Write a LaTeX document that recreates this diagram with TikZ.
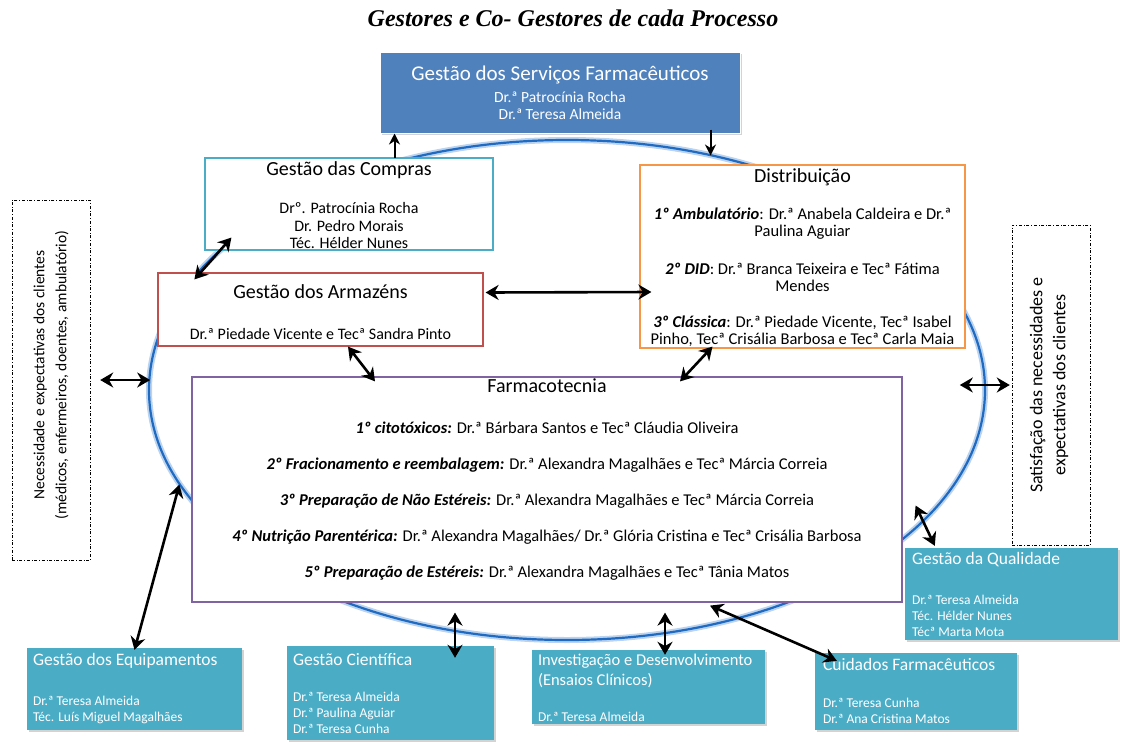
\documentclass[tikz,border=0pt]{standalone}
\usepackage{fontspec}
\setmainfont{Carlito}
\newfontfamily\titlefont{Liberation Serif}
\usepackage{tikz}
\usetikzlibrary{positioning,arrows.meta,shadows,shapes.geometric}

\definecolor{srvblue}{HTML}{4F81BD}
\definecolor{tealbox}{HTML}{4BACC6}
\definecolor{orangeb}{HTML}{F79646}
\definecolor{redb}{HTML}{C0504D}
\definecolor{purpleb}{HTML}{8064A2}
\definecolor{ringblue}{HTML}{1F6BC4}

\tikzset{
  outbox/.style={draw=#1, line width=1.2pt, fill=white, inner sep=0pt},
  fillbox/.style={fill=tealbox, inner sep=0pt, drop shadow={shadow xshift=2pt, shadow yshift=-2pt, opacity=0.35}},
  boxtitle/.style={font=\fontsize{20}{22}\selectfont},
  names/.style={font=\fontsize{16}{17.5}\selectfont, align=center},
  wtitle/.style={text=white, font=\fontsize{17.5}{20}\selectfont, align=left, inner sep=0pt},
  wnames/.style={text=white, font=\fontsize{13.5}{16}\selectfont, align=left, inner sep=0pt},
  dbl/.style={{Stealth[length=13pt,width=15pt]}-{Stealth[length=13pt,width=15pt]}, line width=2.6pt},
  sgl/.style={-{Stealth[length=11pt,width=11pt]}, line width=2pt},
  client/.style={draw, dash dot, thin, minimum width=78pt, inner sep=0pt},
}

\begin{document}
\begin{tikzpicture}[x=1pt, y=-1pt]
\useasboundingbox (0,0) rectangle (1121,745);

\node (title) at (573,18) {\titlefont\bfseries\itshape\fontsize{24}{26}\selectfont Gestores e Co- Gestores de cada Processo};

% ciclo
\node[ellipse, draw=ringblue!30, line width=6pt, minimum width=836pt, minimum height=500pt] (ringglow) at (567,390) {};
\node[ellipse, draw=ringblue, line width=2.2pt, minimum width=836pt, minimum height=500pt] (ring) at (567,390) {};

% topo
\node[fill=srvblue, draw=white, line width=1pt, minimum width=360pt, minimum height=81pt,
      drop shadow={shadow xshift=2pt, shadow yshift=-2pt, opacity=0.35}] (srv) at (560,92.5) {};
\node[text=white, font=\fontsize{21}{24}\selectfont] (srvT) at (560,75) {Gestão dos Serviços Farmacêuticos};
\node[text=white, names, font=\fontsize{15.5}{17}\selectfont] (srvN) at (560,106) {Dr.ª Patrocínia Rocha\\Dr.ª Teresa Almeida};

% caixas do ciclo
\node[outbox=tealbox, minimum width=288pt, minimum height=92pt] (compras) at (349,204) {};
\node[boxtitle] (comprasT) at (349,170) {Gestão das Compras};
\node[names] (comprasN) at (349,226) {Drº. Patrocínia Rocha\\Dr. Pedro Morais\\Téc. Hélder Nunes};

\node[outbox=redb, minimum width=325pt, minimum height=73pt] (armaz) at (320.5,309.5) {};
\node[boxtitle] (armazT) at (320.5,292) {Gestão dos Armazéns};
\node[names] (armazN) at (320.5,334) {Dr.ª Piedade Vicente e Tecª Sandra Pinto};

\node[outbox=orangeb, minimum width=325pt, minimum height=183pt] (distrib) at (802.5,256.5) {};
\node[boxtitle] (distribT) at (802.5,177) {Distribuição};
\node[names, font=\fontsize{16.5}{17}\selectfont] (distribN) at (802.5,277.5)
  {\textbf{\textit{1º Ambulatório}}: Dr.ª Anabela Caldeira e Dr.ª\\Paulina Aguiar\\[21pt]
   \textbf{\textit{2º DID}}: Dr.ª Branca Teixeira e Tecª Fátima\\Mendes\\[19pt]
   \textbf{\textit{3º Clássica}}: Dr.ª Piedade Vicente, Tecª Isabel\\Pinho, Tecª Crisália Barbosa e Tecª Carla Maia};

\node[outbox=purpleb, minimum width=710pt, minimum height=225pt] (farma) at (547,489.5) {};
\node[boxtitle] (farmaT) at (547,386) {Farmacotecnia};
\node[names, font=\fontsize{16.5}{36}\selectfont] (farmaN) at (547,501.5)
  {\textbf{\textit{1º citotóxicos:}} Dr.ª Bárbara Santos e Tecª Cláudia Oliveira\\
   \textbf{\textit{2º Fracionamento e reembalagem:}} Dr.ª Alexandra Magalhães e Tecª Márcia Correia\\
   \textbf{\textit{3º Preparação de Não Estéreis:}} Dr.ª Alexandra Magalhães e Tecª Márcia Correia\\
   \textbf{\textit{4º Nutrição Parentérica:}} Dr.ª Alexandra Magalhães/ Dr.ª Glória Cristina e Tecª Crisália Barbosa\\
   \textbf{\textit{5º Preparação de Estéreis:}} Dr.ª Alexandra Magalhães e Tecª Tânia Matos};

% clientes
\node[client, minimum height=360pt] (needs) at (51,380) {};
\node[rotate=90, align=center, font=\fontsize{15.5}{22}\selectfont] (needsT) at (51,375)
  {Necessidade e expectativas dos clientes\\(médicos, enfermeiros, doentes, ambulatório)};
\node[client, minimum height=320pt] (satis) at (1051,385) {};
\node[rotate=90, align=center, font=\fontsize{18}{23}\selectfont] (satisT) at (1049,385)
  {Satisfação das necessidades e\\expectativas dos clientes};

% caixas de apoio
\node[fillbox, minimum width=213pt, minimum height=92pt] (qual) at (1011.5,594) {};
\node[wtitle, anchor=west] (qualT) at ([shift={(7,12)}]qual.north west) {Gestão da Qualidade};
\node[wnames, anchor=west] (qualN) at ([shift={(7,-24)}]qual.south west) {Dr.ª Teresa Almeida\\Téc. Hélder Nunes\\Técª Marta Mota};

\node[fillbox, minimum width=215pt, minimum height=82pt] (equip) at (134.5,689) {};
\node[wtitle, anchor=west] (equipT) at ([shift={(6,13)}]equip.north west) {Gestão dos Equipamentos};
\node[wnames, anchor=west] (equipN) at ([shift={(6,-20)}]equip.south west) {Dr.ª Teresa Almeida\\Téc. Luís Miguel Magalhães};

\node[fillbox, minimum width=207pt, minimum height=94pt] (cient) at (390.5,693) {};
\node[wtitle, anchor=west] (cientT) at ([shift={(6,14)}]cient.north west) {Gestão Científica};
\node[wnames, anchor=west] (cientN) at ([shift={(6,-27)}]cient.south west) {Dr.ª Teresa Almeida\\Dr.ª Paulina Aguiar\\Dr.ª Teresa Cunha};

\node[fillbox, minimum width=233pt, minimum height=74pt] (invest) at (648.5,687) {};
\node[wtitle, anchor=west, font=\fontsize{16.5}{20}\selectfont] (investT) at ([shift={(6,21)}]invest.north west) {Investigação e Desenvolvimento\\(Ensaios Clínicos)};
\node[wnames, anchor=west] (investN) at ([shift={(6,-7)}]invest.south west) {Dr.ª Teresa Almeida};

\node[fillbox, minimum width=202pt, minimum height=77pt] (cuid) at (916,691.5) {};
\node[wtitle, anchor=west] (cuidT) at ([shift={(8,12)}]cuid.north west) {Cuidados Farmacêuticos};
\node[wnames, anchor=west] (cuidN) at ([shift={(8,-19.5)}]cuid.south west) {Dr.ª Teresa  Cunha\\Dr.ª Ana Cristina Matos};

% setas
\draw[sgl] ([shift={(15,24)}]srv.south west) -- ([shift={(15,0)}]srv.south west);
\draw[sgl] ([shift={(-30,-4)}]srv.south east) -- ([shift={(-30,22)}]srv.south east);
\draw[dbl] ([shift={(27,-13)}]compras.south west) -- ([shift={(37,7)}]armaz.north west);
\draw[dbl] ([shift={(2,-17)}]armaz.east) -- ([shift={(12,35.5)}]distrib.west);
\draw[dbl] ([shift={(27.5,0)}]armaz.south) -- ([shift={(-172,5)}]farma.north);
\draw[dbl] ([shift={(-90,-2)}]distrib.south) -- ([shift={(133,5)}]farma.north);
\draw[dbl] ([xshift=10pt]needs.east) -- ([xshift=60pt]needs.east);
\draw[dbl] ([xshift=-52pt]satis.west) -- ([xshift=-2pt]satis.west);
\draw[dbl] ([shift={(13,16)}]farma.east) -- ([shift={(30,-2)}]qual.north west);
\draw[dbl] ([shift={(-12,-5)}]farma.west) -- ([shift={(0,2)}]equip.north);
\draw[dbl] ([shift={(-92,10)}]farma.south) -- ([shift={(64.5,12)}]cient.north);
\draw[dbl] ([shift={(118,10)}]farma.south) -- ([shift={(16.5,5)}]invest.north);
\draw[dbl] ([shift={(163,3)}]farma.south) -- ([shift={(22,8)}]cuid.north west);
\end{tikzpicture}
\end{document}
